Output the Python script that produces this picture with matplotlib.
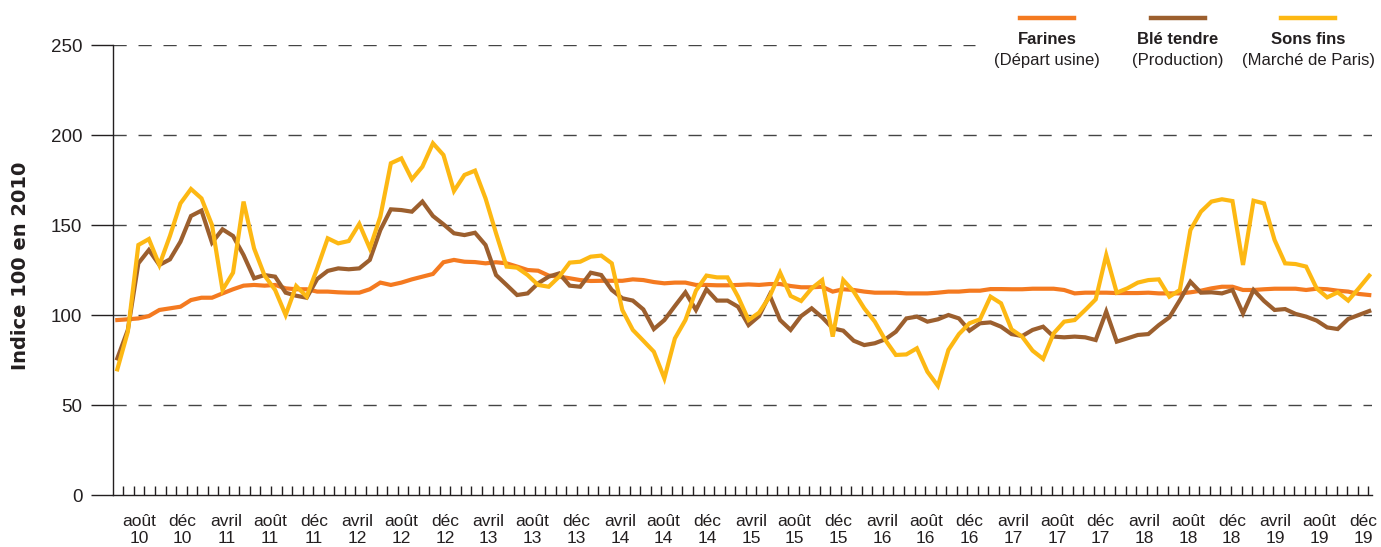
import numpy as np
import matplotlib
matplotlib.use('Agg')
import matplotlib.pyplot as plt
from matplotlib.lines import Line2D

# monthly indices, Jan 2010 -> Dec 2019 (base 100 in 2010)
farines = [97.2, 97.6, 98.1, 99.4, 102.8, 103.7, 104.6, 108.3, 109.6, 109.6,
           112.0, 114.3, 116.3, 116.7, 116.3, 116.7, 114.8, 114.3, 114.3, 113.0,
           113.0, 112.6, 112.4, 112.4, 114.3, 118.0, 116.7, 118.0, 119.8, 121.3,
           122.8, 129.3, 130.6, 129.6, 129.4, 128.7, 129.3, 128.7, 126.9, 125.0,
           124.6, 121.9, 121.3, 120.4, 119.4, 118.9, 119.0, 119.0, 119.0, 119.8,
           119.4, 118.3, 117.6, 118.0, 118.0, 116.7, 116.7, 116.5, 116.5, 116.7,
           117.0, 116.7, 117.2, 117.2, 116.1, 115.4, 115.4, 115.7, 113.0, 114.3,
           113.9, 113.0, 112.4, 112.4, 112.4, 112.0, 112.0, 112.0, 112.4, 113.0,
           113.0, 113.5, 113.5, 114.4, 114.4, 114.3, 114.3, 114.6, 114.6, 114.6,
           113.9, 112.0, 112.4, 112.4, 112.4, 112.2, 112.2, 112.2, 112.4, 112.0,
           112.0, 112.0, 112.6, 113.5, 114.8, 115.7, 115.7, 113.9, 113.9, 114.3,
           114.6, 114.6, 114.6, 113.9, 114.6, 114.3, 113.5, 113.0, 111.7, 111.1]

ble_tendre = [75.9, 91.7, 128.7, 136.1, 127.8, 130.9, 140.7, 155.0, 158.0, 140.2,
              147.6, 143.9, 133.3, 120.4, 122.2, 121.3, 112.4, 110.7, 109.6, 120.0,
              124.5, 125.9, 125.4, 125.9, 130.6, 147.2, 158.7, 158.3, 157.4, 163.0,
              155.0, 150.4, 145.4, 144.4, 145.7, 138.9, 122.2, 116.7, 111.1, 112.0,
              117.6, 121.3, 123.1, 116.3, 115.7, 123.5, 122.2, 113.9, 109.3, 108.0,
              103.1, 92.2, 97.2, 105.0, 112.6, 102.8, 114.3, 108.0, 108.0, 104.6,
              94.4, 99.4, 111.1, 97.2, 91.7, 99.4, 103.7, 98.7, 92.6, 91.3,
              85.7, 83.3, 84.3, 86.5, 90.7, 98.1, 99.1, 96.3, 97.6, 100.0,
              98.1, 91.3, 95.4, 95.9, 93.5, 89.4, 88.3, 91.7, 93.5, 88.0,
              87.6, 88.0, 87.6, 86.1, 101.9, 85.2, 87.0, 88.9, 89.4, 94.4,
              98.7, 108.3, 118.5, 112.4, 112.6, 112.0, 113.9, 100.9, 113.9, 107.8,
              102.8, 103.3, 100.6, 99.1, 96.9, 93.1, 92.2, 97.8, 100.0, 102.2]

sons_fins = [69.8, 90.7, 138.9, 142.2, 127.8, 143.9, 162.0, 170.0, 164.8, 150.0,
             113.9, 123.5, 163.0, 137.0, 121.9, 113.9, 100.0, 116.1, 110.2, 125.9,
             142.6, 139.8, 141.1, 150.6, 137.0, 154.6, 184.3, 187.0, 175.4, 182.4,
             195.4, 188.9, 168.9, 177.8, 180.2, 164.8, 145.4, 126.9, 126.3, 122.2,
             116.7, 115.7, 121.3, 129.1, 129.6, 132.4, 133.0, 128.7, 102.8, 91.7,
             85.7, 79.6, 64.8, 87.0, 97.2, 113.5, 121.9, 120.9, 120.9, 110.2,
             97.2, 101.3, 110.2, 123.5, 110.6, 107.8, 114.8, 119.4, 88.0, 119.4,
             113.0, 103.7, 96.3, 86.1, 77.8, 78.1, 81.5, 68.5, 60.6, 80.6,
             89.4, 95.4, 97.6, 110.2, 106.5, 92.0, 88.0, 80.2, 75.6, 89.8,
             96.3, 97.2, 102.8, 108.7, 133.3, 112.4, 114.8, 118.0, 119.4, 119.8,
             110.2, 113.9, 147.2, 157.4, 163.0, 164.3, 163.3, 127.8, 163.5, 162.0,
             141.7, 128.7, 128.3, 126.9, 114.8, 109.8, 112.6, 108.0, 114.8, 121.9]

x_labels = ['août\n10', 'déc\n10', 'avril\n11', 'août\n11', 'déc\n11', 'avril\n12',
            'août\n12', 'déc\n12', 'avril\n13', 'août\n13', 'déc\n13', 'avril\n14',
            'août\n14', 'déc\n14', 'avril\n15', 'août\n15', 'déc\n15', 'avril\n16',
            'août\n16', 'déc\n16', 'avril\n17', 'août\n17', 'déc\n17', 'avril\n18',
            'août\n18', 'déc\n18', 'avril\n19', 'août\n19', 'déc\n19']

series_names = ['Farines', 'Blé tendre', 'Sons fins']
series_sub = ['(Départ usine)', '(Production)', '(Marché de Paris)']
colors = ['#F47A20', '#9C5F2E', '#FDB813']

plt.rcParams['font.family'] = ['Liberation Sans Narrow', 'Liberation Sans', 'DejaVu Sans']
plt.rcParams['lines.scale_dashes'] = False
txt = '#231F20'

fig = plt.figure(figsize=(13.81, 5.47), dpi=100)
W, H = 1381, 547
ax = fig.add_axes([113 / W, 52 / H, 1259.4 / W, 450 / H])

months = np.arange(len(farines))
for vals, c in zip([farines, ble_tendre, sons_fins], colors):
    ax.plot(months, vals, color=c, lw=3.0, solid_joinstyle='miter', zorder=3)

ax.set_xlim(-0.41, 119.3)
ax.set_ylim(0, 250)

# dashed horizontal grid (top line stops before the legend)
for lvl in [50, 100, 150, 200]:
    ax.axhline(lvl, color='#444444', lw=1.0, dashes=(9.5, 8.5), zorder=1)
ax.hlines(250, -0.41, 81.5, color='#444444', lw=1.0, linestyles=(0, (9.5, 8.5)), zorder=1)

for s in ['top', 'right']:
    ax.spines[s].set_visible(False)
for s in ['left', 'bottom']:
    ax.spines[s].set_color(txt)
    ax.spines[s].set_linewidth(1.0)
ax.spines['left'].set_bounds(0, 250)

ax.set_yticks([0, 50, 100, 150, 200, 250])
ax.tick_params(axis='y', direction='out', length=16, width=1.0, color=txt,
               labelsize=13.5, labelcolor=txt, pad=6)

ax.set_xticks(np.linspace(2.06, 118.4, len(x_labels)))
ax.set_xticklabels(x_labels, linespacing=1.15)
ax.set_xticks(np.linspace(0.57, 118.9, 119), minor=True)
ax.tick_params(axis='x', which='major', length=0, labelsize=12.5, labelcolor=txt, pad=14)
ax.tick_params(axis='x', which='minor', direction='in', length=6.5, width=1.0, color=txt)

fig.text(21 / W, 1 - 266 / H, 'Indice 100 en 2010', rotation=90, ha='center', va='center',
         fontsize=14, fontweight='bold', color=txt, family='DejaVu Sans')

# legend on top right
leg_x = [1047, 1178, 1308]
for cx, name, sub, c in zip(leg_x, series_names, series_sub, colors):
    fig.add_artist(Line2D([(cx - 27) / W, (cx + 27) / W], [1 - 18 / H, 1 - 18 / H],
                          color=c, lw=3.2, transform=fig.transFigure))
    fig.text(cx / W, 1 - 39 / H, name, ha='center', va='center', fontsize=12,
             fontweight='bold', color=txt)
    fig.text(cx / W, 1 - 61 / H, sub, ha='center', va='center', fontsize=12, color=txt)

fig.savefig('out.png', dpi=100)
